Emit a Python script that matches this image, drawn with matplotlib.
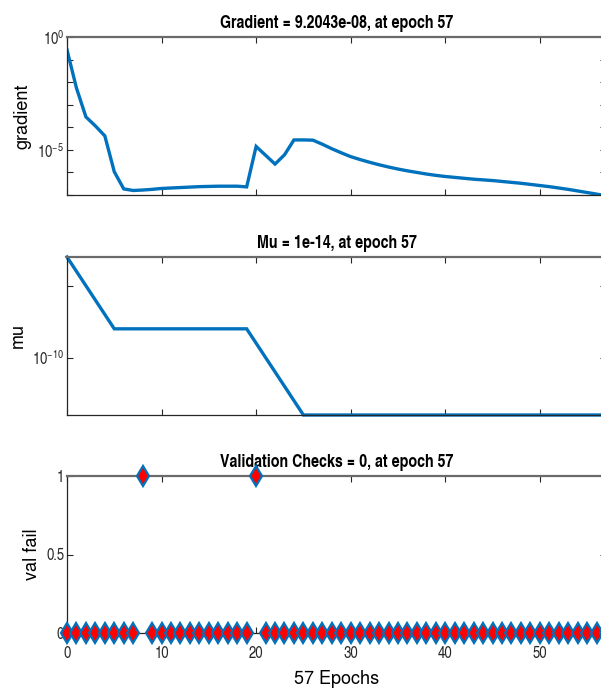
import numpy as np
import matplotlib
matplotlib.use("Agg")
import matplotlib.pyplot as plt
from matplotlib.ticker import FixedLocator, FixedFormatter, NullLocator

COND = ['TeX Gyre Heros Cn', 'Liberation Sans', 'DejaVu Sans']
REG = ['TeX Gyre Heros', 'Liberation Sans', 'DejaVu Sans']
plt.rcParams['font.family'] = COND
plt.rcParams['mathtext.fontset'] = 'custom'
plt.rcParams['mathtext.rm'] = 'TeX Gyre Heros Cn'
plt.rcParams['mathtext.it'] = 'TeX Gyre Heros Cn'
plt.rcParams['mathtext.bf'] = 'TeX Gyre Heros Cn:bold'

# ---------------- data ----------------
epochs = np.arange(0, 58)
grad_log10 = [
    -0.57, -2.26, -3.54, -3.94, -4.38, -5.97, -6.73, -6.80, -6.78, -6.75,
    -6.71, -6.69, -6.67, -6.65, -6.63, -6.62, -6.61, -6.61, -6.61, -6.64,
    -4.85, -5.24, -5.63, -5.22, -4.56, -4.56, -4.57, -4.75, -4.95, -5.13,
    -5.30, -5.43, -5.55, -5.66, -5.76, -5.85, -5.93, -6.00, -6.07, -6.13,
    -6.18, -6.22, -6.26, -6.30, -6.33, -6.36, -6.40, -6.44, -6.48, -6.53,
    -6.58, -6.63, -6.69, -6.75, -6.82, -6.89, -6.96, -7.036,
]
gradient = [10.0 ** v for v in grad_log10]
mu_log10 = ([-3, -4, -5, -6, -7] + [-8] * 15 + [-9, -10, -11, -12, -13] + [-14] * 33)
mu = [10.0 ** v for v in mu_log10]
val_fail = [0] * 58
val_fail[8] = 1
val_fail[20] = 1

titles = ["Gradient = 9.2043e-08, at epoch 57",
          "Mu = 1e-14, at epoch 57",
          "Validation Checks = 0, at epoch 57"]
ylabels = ["gradient", "mu", "val fail"]
xlabel = "57 Epochs"
xticks = [0, 10, 20, 30, 40, 50]

blue = '#0072BD'
red = '#FF0000'
spine_c = '#262626'

fig = plt.figure(figsize=(6.01, 6.88), dpi=100)
W, H = 601.0, 688.0
left_px, right_px = 67, 606
panels_px = [(37, 195), (257, 415), (476, 633)]
axes = []
for top, bot in panels_px:
    ax = fig.add_axes([left_px / W, 1 - bot / H, (right_px - left_px) / W, (bot - top) / H])
    axes.append(ax)

TICK_FS = 11.5
TITLE_FS = 12.5
LABEL_FS = 13

def style(ax, show_xlabels=False):
    ax.set_xlim(0, 57)
    ax.xaxis.set_major_locator(FixedLocator(xticks))
    if not show_xlabels:
        ax.set_xticklabels([])
    ax.tick_params(direction='in', length=4, width=0.8, top=True, right=True,
                   colors=spine_c, labelsize=TICK_FS, pad=2)
    ax.tick_params(axis='x', pad=9.5)
    ax.tick_params(which='minor', length=0)
    for s in ['left', 'bottom', 'right']:
        ax.spines[s].set_color(spine_c)
        ax.spines[s].set_linewidth(0.9)
    ax.spines['top'].set_color('#6a6a6a')
    ax.spines['top'].set_linewidth(1.6)

def titl(ax, t):
    ax.set_title(t, fontsize=TITLE_FS, fontweight='bold', pad=6.5, family=COND)

# ---- panel 1: gradient ----
ax = axes[0]
ax.plot(epochs, gradient, color=blue, lw=2.4, solid_joinstyle='miter')
ax.set_yscale('log')
ax.set_ylim(1e-7, 1)
style(ax)
dec = [10.0 ** -k for k in range(0, 8)]
ax.yaxis.set_major_locator(FixedLocator(dec))
ax.yaxis.set_minor_locator(NullLocator())
ax.yaxis.set_major_formatter(FixedFormatter(
    [r'$\mathregular{10^{0}}$', '', '', '', '', r'$\mathregular{10^{-5}}$', '', '']))
titl(ax, titles[0])
ax.set_ylabel(ylabels[0], family=REG, fontsize=LABEL_FS, labelpad=4)

# ---- panel 2: mu ----
ax = axes[1]
ax.plot(epochs, mu, color=blue, lw=2.4, solid_joinstyle='miter', clip_on=False)
ax.set_yscale('log')
ax.set_ylim(1e-14, 1e-3)
style(ax)
ax.yaxis.set_major_locator(FixedLocator([1e-10, 1e-5]))
ax.yaxis.set_minor_locator(NullLocator())
ax.yaxis.set_major_formatter(FixedFormatter([r'$\mathregular{10^{-10}}$', '']))
titl(ax, titles[1])
ax.set_ylabel(ylabels[1], family=REG, fontsize=LABEL_FS, labelpad=4)

# ---- panel 3: validation checks ----
ax = axes[2]
ax.plot(epochs, val_fail, linestyle='none', marker='d', markersize=10.5,
        markerfacecolor=red, markeredgecolor=blue, markeredgewidth=1.6,
        clip_on=False, zorder=5)
ax.set_ylim(0, 1)
style(ax, show_xlabels=True)
ax.yaxis.set_major_locator(FixedLocator([0, 0.5, 1]))
ax.yaxis.set_major_formatter(FixedFormatter(['0', '0.5', '1']))
titl(ax, titles[2])
ax.set_ylabel(ylabels[2], family=REG, fontsize=LABEL_FS, labelpad=4)
ax.set_xlabel(xlabel, family=REG, fontsize=LABEL_FS, labelpad=6)

fig.savefig('out.png', dpi=100)
